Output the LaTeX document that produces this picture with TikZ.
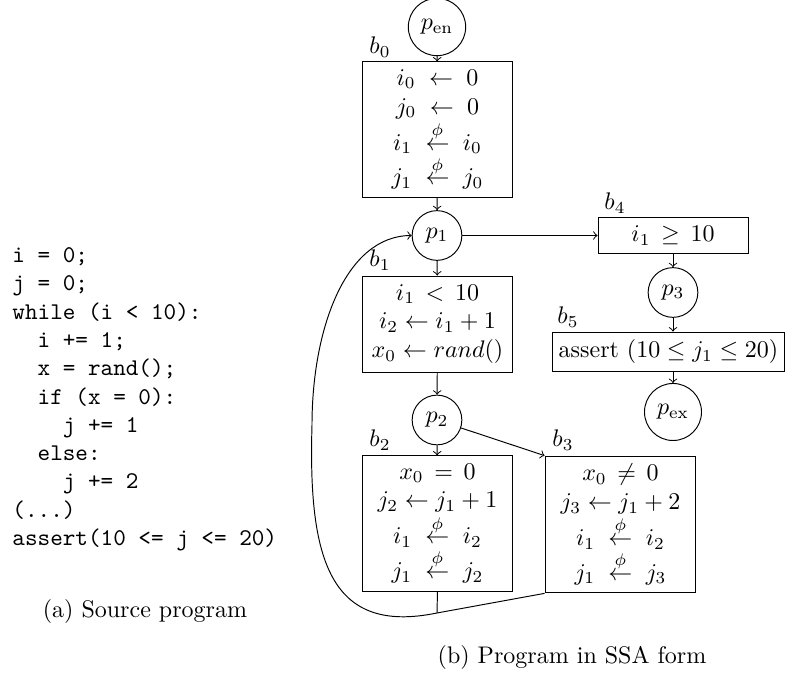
\documentclass[tikz,border=0pt]{standalone}
\usepackage{amsmath}
\usepackage{amssymb}
\usepackage{tikz}

\newcommand{\phiasg}{\stackrel{\phi}{\leftarrow}}

\begin{document}
\begin{tikzpicture}[x=0.41667pt,y=0.41667pt]
\tikzstyle{pnode}=[draw, circle]
\tikzstyle{blk}=[draw, rectangle, align=center, inner sep=0pt, minimum width=62.9pt]
\tikzstyle{blabel}=[inner sep=0pt]
\useasboundingbox (0,0) rectangle (785,-677);
% source program
\node [anchor=north west, inner sep=0pt, align=left, font=\ttfamily\fontsize{10}{11.8}\selectfont] (src) at (12,-247)
  {i = 0;\\ j = 0;\\ while (i < 10):\\ \ \ i += 1;\\ \ \ x = rand();\\ \ \ if (x = 0):\\
   \ \ \ \ j += 1\\ \ \ else:\\ \ \ \ \ j += 2\\ (...)\\ assert(10 <= j <= 20)};
\node [inner sep=0pt] (capa) at (145,-612) {(a) Source program};
% SSA form
\node [pnode] (pen) at (437,-27) {$p_{\mathrm{en}}$};
\node [blk, minimum height=56.3pt] (b0) at (437.5,-129.5)
  {$i_0\;\leftarrow\;0$\\ $j_0\;\leftarrow\;0$\\ $i_1\;\phiasg\;i_0$\\ $j_1\;\phiasg\;j_0$};
\node [blabel] (l0) at (380,-47) {$b_0$};
\node [pnode] (p1) at (437,-235.5) {$p_1$};
\node [blk, minimum height=40pt] (b1) at (437.5,-324)
  {$i_1\,<\,10$\\ $i_2 \leftarrow i_1 + 1$\\ $x_0 \leftarrow rand()$};
\node [blabel] (l1) at (380,-260) {$b_1$};
\node [pnode] (p2) at (437,-420) {$p_2$};
\node [blk, minimum height=56.3pt] (b2) at (437.5,-523.5)
  {$x_0\,=\,0$\\ $j_2 \leftarrow j_1+1$\\ $i_1\;\phiasg\;i_2$\\ $j_1\;\phiasg\;j_2$};
\node [blabel] (l2) at (380,-440) {$b_2$};
\node [blk, minimum height=57pt] (b3) at (620.5,-524.5)
  {$x_0\,\neq\,0$\\ $j_3 \leftarrow j_1+2$\\ $i_1\;\phiasg\;i_2$\\ $j_1\;\phiasg\;j_3$};
\node [blabel] (l3) at (563,-440) {$b_3$};
\node [blk, minimum width=62.5pt, minimum height=14.6pt] (b4) at (673,-235.5) {$i_1\,\geq\,10$};
\node [blabel] (l4) at (615,-203) {$b_4$};
\node [pnode] (p3) at (673,-292.5) {$p_3$};
\node [blk, minimum width=96.7pt, minimum height=16.25pt] (b5) at (668.5,-351.5) {assert $(10 \leq j_1 \leq 20)$};
\node [blabel] (l5) at (568,-317) {$b_5$};
\node [pnode] (pex) at (673,-412) {$p_{\mathrm{ex}}$};
\node [inner sep=0pt] (capb) at (572,-658) {(b) Program in SSA form};
\coordinate (merge) at (437,-613);
% edges
\draw [->] (pen) -- (b0);
\draw [->] (b0) -- (p1);
\draw [->] (p1) -- (b1);
\draw [->] (b1) -- (p2);
\draw [->] (p2) -- (b2);
\draw [->] (p2) -- (b3.north west);
\draw [->] (p1) -- (b4);
\draw [->] (b4) -- (p3);
\draw [->] (p3) -- (p3 |- b5.north);
\draw [->] (pex |- b5.south) -- (pex);
\draw (b2.south) -- (merge);
\draw (b3.south west) -- (merge);
\draw [->] (merge) .. controls (330,-635) and (308,-560) .. (312,-425)
  .. controls (312,-330) and (345,-236) .. (p1.west);
\end{tikzpicture}
\end{document}
